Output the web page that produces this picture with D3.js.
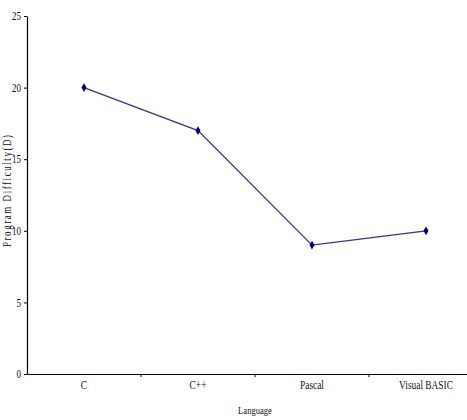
<!DOCTYPE html>
<html><head><meta charset="utf-8">
<script src="https://cdn.jsdelivr.net/npm/d3@7"></script>
<style>body{margin:0;background:#fff}svg{display:block}svg text{font-family:"Liberation Serif","DejaVu Serif",serif !important}</style>
</head><body><div id="chart"></div>
<script>
const categories = ["C", "C++", "Pascal", "Visual BASIC"];
const difficulty = [20, 17, 9, 10];
const yTicks = [0, 5, 10, 15, 20, 25];

const W = 467, H = 420;
const mLeft = 27, mTop = 16, mBottom = 374;
const sx = 0.78; // condensed glyphs
const svg = d3.select("#chart").append("svg").attr("width", W).attr("height", H);

function condense(sel) {
  sel.each(function () {
    const w = this.getComputedTextLength();
    d3.select(this).attr("textLength", w * sx).attr("lengthAdjust", "spacingAndGlyphs");
  });
}

const x = d3.scaleBand().domain(categories).range([mLeft, mLeft + 114 * 4]).padding(0);
const y = d3.scaleLinear().domain([0, 25]).range([mBottom, mTop]);

// y axis
const yAxis = svg.append("g").attr("transform", `translate(${mLeft},0)`)
  .call(d3.axisLeft(y).tickValues(yTicks).tickSize(3).tickSizeOuter(0).tickPadding(3));
yAxis.attr("font-family", null);
yAxis.select(".domain").attr("stroke", "#000").attr("stroke-width", 1.2);
yAxis.selectAll(".tick line").attr("stroke", "#000");
yAxis.selectAll("text").attr("font-size", 11.5).attr("fill", "#111").call(condense);

// x axis
const xAxis = svg.append("g").attr("transform", `translate(0,${mBottom})`)
  .call(d3.axisBottom(x).tickSize(0).tickPadding(6).tickSizeOuter(0));
xAxis.attr("font-family", null);
xAxis.select(".domain").attr("stroke", "#000").attr("stroke-width", 1.2);
xAxis.selectAll("text").attr("font-size", 12).attr("fill", "#111").call(condense);
// boundary ticks between categories
xAxis.selectAll(".bound").data(categories.slice(1)).enter().append("line")
  .attr("x1", d => x(d)).attr("x2", d => x(d))
  .attr("y1", 0).attr("y2", 3).attr("stroke", "#000");

// line
const line = d3.line()
  .x((d, i) => x(categories[i]) + x.bandwidth() / 2)
  .y(d => y(d));
svg.append("path").datum(difficulty).attr("d", line)
  .attr("fill", "none").attr("stroke", "#333399").attr("stroke-width", 1.3);

// markers
svg.selectAll(".pt").data(difficulty).enter().append("path")
  .attr("transform", (d, i) => `translate(${x(categories[i]) + x.bandwidth() / 2},${y(d)})`)
  .attr("d", d3.symbol().type(d3.symbolDiamond).size(22))
  .attr("fill", "#000080");

// titles
svg.append("text").attr("x", (x.range()[0] + x.range()[1]) / 2).attr("y", 414)
  .attr("text-anchor", "middle").attr("font-size", 11).attr("fill", "#111")
  .text("Language").call(condense);
svg.append("text").attr("transform", `translate(10.5,191) rotate(-90) scale(${sx},1)`)
  .attr("text-anchor", "middle").attr("font-size", 11.5).attr("fill", "#111")
  .attr("textLength", 112 / sx).attr("lengthAdjust", "spacing")
  .text("Program Difficulty(D)");
</script></body></html>
